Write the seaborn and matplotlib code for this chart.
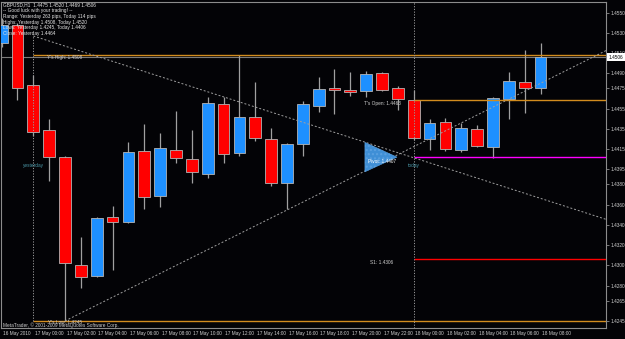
import numpy as np
import pandas as pd
import matplotlib
matplotlib.use("Agg")
import matplotlib.pyplot as plt
import matplotlib.transforms as mtransforms
from matplotlib.patches import Polygon
import seaborn as sns

# ---------------- data ----------------
symbol = "GBPUSD,H1"
times = (["16 May 22:00", "16 May 23:00"]
         + [f"17 May {h:02d}:00" for h in range(24)]
         + [f"18 May {h:02d}:00" for h in range(9)])

opens = [1.4520, 1.4538, 1.4478, 1.4434, 1.4407, 1.4300, 1.4289, 1.4348, 1.4343, 1.4413,
         1.4369, 1.4414, 1.4405, 1.4390, 1.4460, 1.4411, 1.4447, 1.4425, 1.4381, 1.4420,
         1.4458, 1.4475, 1.4473, 1.4472, 1.4490, 1.4475, 1.4463, 1.4425, 1.4442, 1.4414,
         1.4435, 1.4417, 1.4464, 1.4481, 1.4475]
highs = [1.4545, 1.4540, 1.4488, 1.4445, 1.4408, 1.4328, 1.4348, 1.4359, 1.4422, 1.4440,
         1.4431, 1.4453, 1.4434, 1.4466, 1.4466, 1.4508, 1.4481, 1.4436, 1.4421, 1.4462,
         1.4486, 1.4494, 1.4491, 1.4492, 1.4491, 1.4477, 1.4473, 1.4445, 1.4446, 1.4441,
         1.4439, 1.4466, 1.4491, 1.4513, 1.4520]
lows = [1.4516, 1.4463, 1.4428, 1.4383, 1.4245, 1.4278, 1.4288, 1.4295, 1.4342, 1.4356,
        1.4358, 1.4401, 1.4381, 1.4386, 1.4401, 1.4408, 1.4423, 1.4378, 1.4356, 1.4408,
        1.4452, 1.4450, 1.4467, 1.4466, 1.4472, 1.4454, 1.4424, 1.4414, 1.4413, 1.4412,
        1.4417, 1.4406, 1.4445, 1.4451, 1.4469]
closes = [1.4538, 1.4475, 1.4432, 1.4407, 1.4302, 1.4288, 1.4347, 1.4343, 1.4412, 1.4368,
          1.4416, 1.4406, 1.4392, 1.4461, 1.4410, 1.4447, 1.4426, 1.4381, 1.4420, 1.4460,
          1.4474, 1.4473, 1.4471, 1.4489, 1.4473, 1.4464, 1.4426, 1.4441, 1.4415, 1.4436,
          1.4418, 1.4465, 1.4482, 1.4475, 1.4506]

y_high, y_low, y_close = 1.4508, 1.4245, 1.4464
t_high, t_low, t_open = 1.4520, 1.4406, 1.4463
pivot, s1 = 1.4407, 1.4306
range_y, range_t = 263, 114

yesterday_idx, today_idx = 2, 26
desc_line_x = [2, 34]
desc_line_y = [1.45268, 1.43662]
asc_line_x = [4, 34]
asc_line_y = [1.4245, 1.4480]

ytick_vals = [1.4550, 1.4530, 1.4510, 1.4490, 1.4475, 1.4455, 1.4435, 1.4415, 1.4395,
              1.4380, 1.4360, 1.4340, 1.4320, 1.4300, 1.4280, 1.4265, 1.4245]
xtick_idx = [0] + list(range(2, 35, 2))
xtick_labels = ["16 May 2010"] + [times[i] for i in range(2, 35, 2)]

info_lines = [
    f"{symbol}  {opens[-1]:.4f} {highs[-1]:.4f} {lows[-1]:.4f} {closes[-1]:.4f}",
    "-- Good luck with your trading! --",
    f"Range: Yesterday {range_y} pips, Today {range_t} pips",
    f"Highs: Yesterday {y_high:.4f}, Today {t_high:.4f}",
    f"Lows: Yesterday {y_low:.4f}, Today {t_low:.4f}",
    f"Close: Yesterday {y_close:.4f}",
]

df = pd.DataFrame({"t": times, "open": opens, "high": highs, "low": lows, "close": closes})
df["x"] = np.arange(len(df))

# ---------------- style ----------------
BG = "#030306"
FG = "#d0d0d0"
GRID = "#8c8c8c"
BULL = "#1e90ff"
BEAR = "#ff0000"
EDGE = "#b4b4b4"
WICK = "#a0a0a0"
ORANGE = "#d28c1e"
TEAL = "#4a98a8"
FS = 3.4

sns.set_theme(style="dark", rc={
    "axes.facecolor": BG, "figure.facecolor": BG,
    "axes.edgecolor": GRID, "axes.linewidth": 0.8,
    "xtick.color": GRID, "ytick.color": GRID,
    "xtick.labelcolor": FG, "ytick.labelcolor": FG,
})
plt.rcParams["font.family"] = ["Liberation Sans", "DejaVu Sans"]

W, H = 625, 339
fig = plt.figure(figsize=(W / 100, H / 100), dpi=100)
ax = fig.add_axes([1 / W, 11 / H, 605 / W, 326 / H])
ax.set_facecolor(BG)

x_left, x_right = -0.041, 38.13
ax.set_xlim(x_left, x_right)
ax.set_ylim(1.42380, 1.45604)
ax.grid(False)

# candles
bull = df["close"] >= df["open"]
ax.vlines(df["x"], df["low"], df["high"], color=WICK, lw=0.9, zorder=2)
body_lo = np.minimum(df["open"], df["close"])
body_h = np.maximum(np.abs(df["close"] - df["open"]), 0.00012)
ax.bar(df["x"], body_h, bottom=body_lo, width=0.74,
       color=np.where(bull, BULL, BEAR), edgecolor=EDGE, linewidth=0.6, zorder=3)

# horizontal level lines
ax.axhline(closes[-1], color="#7a7a7a", lw=0.8, zorder=1)
ax.hlines([y_high, y_low], yesterday_idx, x_right, color=ORANGE, lw=1.0, zorder=4)
ax.hlines(t_open, today_idx, x_right, color=ORANGE, lw=1.0, zorder=4)
ax.hlines(pivot, today_idx, x_right, color="#ff00ff", lw=1.0, zorder=4)
ax.hlines(s1, today_idx, x_right, color="#ff0000", lw=1.0, zorder=4)

# separators
dot = (0, (1.2, 1.6))
ax.vlines(yesterday_idx, y_low, desc_line_y[0], color="#9a9a9a", lw=0.7, linestyles=[dot], zorder=4)
ax.axvline(today_idx, color="#9a9a9a", lw=0.7, linestyle=dot, zorder=4)

# trend lines (extended to the right edge)
def extend(xs, ys):
    slope = (ys[1] - ys[0]) / (xs[1] - xs[0])
    return [xs[0], x_right], [ys[0], ys[0] + slope * (x_right - xs[0])]

dx, dy = extend(desc_line_x, desc_line_y)
ax_x, ax_y = extend(asc_line_x, asc_line_y)
lines = pd.DataFrame({"x": dx + ax_x, "y": dy + ax_y, "line": ["d", "d", "a", "a"]})
sns.lineplot(data=lines, x="x", y="y", units="line", estimator=None, ax=ax,
             color="#a0a0a0", lw=0.7, linestyle=(0, (2, 2)), zorder=5, legend=False)
ax.set_xlabel("")
ax.set_ylabel("")

# pivot triangle
tri_base_x, tri_tip_x, tri_half = 22.92, 24.94, 0.00145
ax.add_patch(Polygon([[tri_base_x, pivot + tri_half], [tri_base_x, pivot - tri_half],
                      [tri_tip_x, pivot]], closed=True, facecolor="#3f8fd6",
                     edgecolor="#5aa0e0", lw=0.4, hatch="....", zorder=6))

# level labels
def lvl_text(x, y, s, color=FG, dy=-3):
    t = ax.text(x, y, s, color=color, fontsize=FS, ha="center", va="center", zorder=7,
                transform=ax.transData + mtransforms.ScaledTranslation(0, dy / 100, fig.dpi_scale_trans))
    return t

lvl_text(4, y_high, f"Y's High: {y_high:.4f}")
lvl_text(4, y_low, f"Y's Low: {y_low:.4f}", dy=-2)
lvl_text(24, t_open, f"T's Open: {t_open:.4f}")
lvl_text(24, pivot, f"Pivot: {pivot:.4f}", color="#ffffff", dy=-4)
lvl_text(24, s1, f"S1: {s1:.4f}")
lvl_text(yesterday_idx, pivot, "yesterday", color=TEAL, dy=-8)
lvl_text(today_idx, pivot, "today", color=TEAL, dy=-8)

# axes ticks
ax.yaxis.tick_right()
ax.set_yticks(ytick_vals)
ax.set_yticklabels([f"{v:.4f}" for v in ytick_vals])
ax.tick_params(axis="y", direction="out", length=2, width=0.6, pad=1.0, labelsize=FS)
ax.set_xticks(xtick_idx)
ax.set_xticklabels(xtick_labels, ha="left")
ax.tick_params(axis="x", direction="out", length=4.5, width=0.6, pad=-2.6, labelsize=FS)
for lbl in ax.get_xticklabels():
    lbl.set_transform(lbl.get_transform() + mtransforms.ScaledTranslation(1.6 / 100, 0, fig.dpi_scale_trans))
for sp in ax.spines.values():
    sp.set_visible(True)
    sp.set_color(GRID)
    sp.set_linewidth(0.8)

# current price box
ax.text(1.0, closes[-1], f"{closes[-1]:.4f}", color="#000000", fontsize=FS,
        ha="left", va="center", zorder=8, clip_on=False,
        transform=mtransforms.blended_transform_factory(ax.transAxes, ax.transData)
        + mtransforms.ScaledTranslation(3 / 100, 0, fig.dpi_scale_trans),
        bbox=dict(boxstyle="square,pad=0.35", facecolor="#ffffff", edgecolor="none"))

# info block
for k, s in enumerate(info_lines):
    fig.text(3 / W, 1 - (5 + 5.75 * k) / H, s, color="#e6e6e6", fontsize=FS,
             ha="left", va="center", zorder=10)
fig.text(3 / W, 1 - 325 / H, "MetaTrader, \u00a9 2001-2009 MetaQuotes Software Corp.",
         color=FG, fontsize=FS, ha="left", va="center")

fig.savefig("out.png", dpi=100, facecolor=BG)
